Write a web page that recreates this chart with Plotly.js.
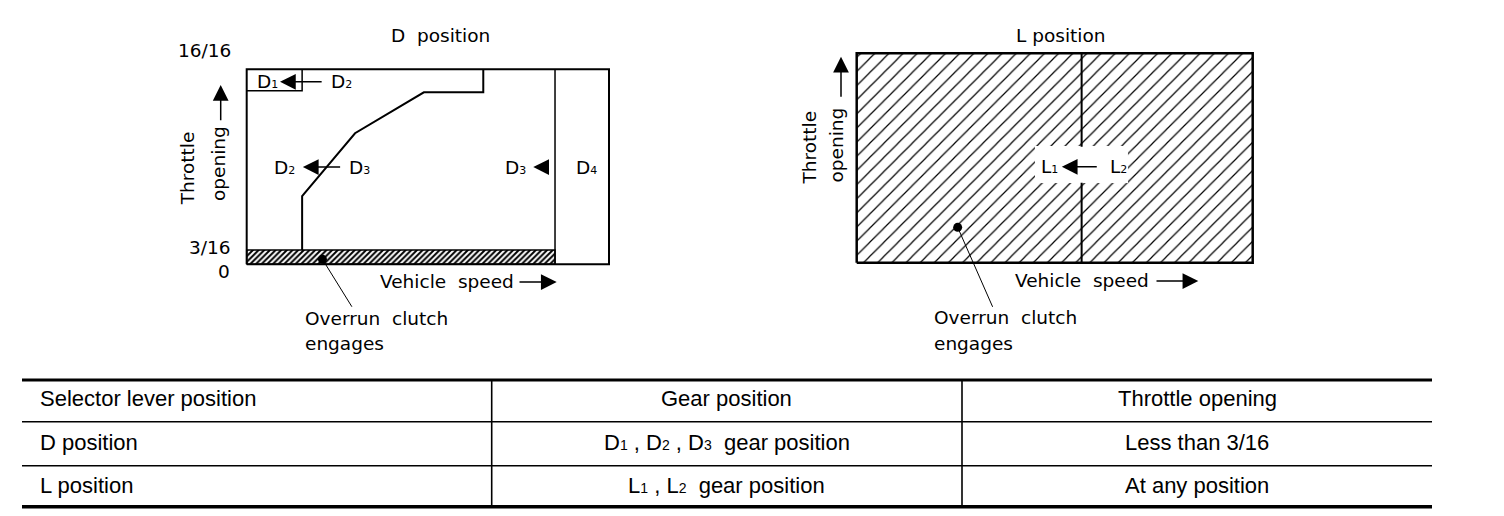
<!DOCTYPE html>
<html><head><meta charset="utf-8">
<script src="https://cdn.plot.ly/plotly-3.0.1.min.js"></script>
<style>html,body{margin:0;padding:0;background:#fff}#chart{width:1504px;height:516px}</style>
</head><body><div id="chart"></div>
<script>
// ---------------- DATA (schematic units: vehicle speed 0-100, throttle 0-100 of diagram) ----------------
const dTitle = 'D\u00a0 position';
const lTitle = 'L position';
const throttleWords = ['Throttle', 'opening'];
const speedLabel = 'Vehicle\u00a0 speed';
const overrunLines = ['Overrun\u00a0 clutch', 'engages'];
const dTickLabels = ['16/16', '3/16', '0'];

const dBoxX = [0, 100, 100, 0, 0];
const dBoxY = [0, 0, 100, 100, 0];
const dBandX = [0, 85.1, 85.1, 0, 0];          // overrun clutch band (throttle < 3/16)
const dBandY = [0, 0, 7.3, 7.3, 0];
const dD34X = [85.1, 85.1];                    // D3 <- D4 boundary
const dD34Y = [0, 100];
const dD12X = [0, 15.3, 15.3];                 // D1 <- D2 region
const dD12Y = [89, 89, 100];
const dShiftX = [15.3, 15.3, 29.9, 48.9, 65.3, 65.3];   // D2 <- D3 shift line
const dShiftY = [7.3, 35, 67.2, 88.2, 88.2, 100];
const dDotX = [20.9], dDotY = [2.6];

const lBoxX = [0, 100, 100, 0, 0];
const lBoxY = [0, 0, 100, 100, 0];
const lShiftX = [56.8, 56.8, null, 56.8, 56.8]; // L1 <- L2 line
const lShiftY = [0, 38.2, null, 55.4, 100];
const lClearX = [45, 68.5, 68.5, 45, 45];
const lClearY = [38, 38, 55.7, 55.7, 38];
const lDotX = [25.5], lDotY = [16.9];

// shift labels: [fromGear, toGear] with subscript digits
const dShiftLabels = [['D', '2', 'D', '1'], ['D', '3', 'D', '2'], ['D', '4', 'D', '3']];
const lShiftLabels = [['L', '2', 'L', '1']];

// table
const tableHeader = ['Selector lever position', 'Gear position', 'Throttle opening'];
const colSelector = ['D position', 'L position'];
const colGear = [[['D','1'],['D','2'],['D','3']], [['L','1'],['L','2']]];
const colThrottle = ['Less than 3/16', 'At any position'];

// ---------------- LAYOUT HELPERS ----------------
const W = 1504, H = 516, PAD = 4;
function xDom(p0, p1) { const s = (p1 - p0) / 100; return [(p0 - PAD * s) / W, (p1 + PAD * s) / W]; }
function yDom(pb, pt) { const s = (pb - pt) / 100; return [1 - (pb + PAD * s) / H, 1 - (pt - PAD * s) / H]; }
const px = x => x / W, py = y => 1 - y / H;
const FONT = {family: 'DejaVu Sans, Arial, sans-serif', size: 18.5, color: '#000'};
const TFONT = {family: 'Liberation Sans, Arial, sans-serif', size: 22, color: '#000'};
const sub = (t, d, fs) => t + '<span style="font-size:' + (fs || 11) + 'px">' + d + '</span>';
const AS = 2.1;

const ann = [];
function txt(text, x, y, o) {
  ann.push(Object.assign({text, x: px(x), y: py(y), xref: 'paper', yref: 'paper', showarrow: false,
    xanchor: 'center', yanchor: 'middle', font: FONT}, o || {}));
}
function parrow(tip, tail, o) {
  ann.push(Object.assign({text: '', x: px(tip[0]), y: py(tip[1]), xref: 'paper', yref: 'paper',
    axref: 'pixel', ayref: 'pixel', ax: tail[0] - tip[0], ay: tail[1] - tip[1], showarrow: true,
    arrowhead: 2, arrowsize: AS, arrowwidth: 1.5, arrowcolor: '#000', standoff: 0}, o || {}));
}
function darrow(xa, ya, tip, tail) {
  ann.push({text: '', xref: xa, yref: ya, axref: xa, ayref: ya, x: tip[0], y: tip[1], ax: tail[0], ay: tail[1],
    showarrow: true, arrowhead: 2, arrowsize: AS, arrowwidth: 1.5, arrowcolor: '#000', standoff: 0});
}
function dtxt(xa, ya, text, x, y) {
  ann.push({text, xref: xa, yref: ya, x, y, showarrow: false, xanchor: 'center', yanchor: 'middle', font: FONT});
}

// ---------------- TRACES ----------------
const blk = {color: '#000', width: 2};
const traces = [
  {x: dBandX, y: dBandY, xaxis: 'x', yaxis: 'y', mode: 'lines', fill: 'toself', fillcolor: '#fff',
   fillpattern: {shape: '/', size: 4, solidity: 0.5, fgcolor: '#000', bgcolor: '#fff'}, line: {color: '#000', width: 1.5}},
  {x: dBoxX, y: dBoxY, xaxis: 'x', yaxis: 'y', mode: 'lines', line: blk},
  {x: dD34X, y: dD34Y, xaxis: 'x', yaxis: 'y', mode: 'lines', line: {color: '#000', width: 1.5}},
  {x: dD12X, y: dD12Y, xaxis: 'x', yaxis: 'y', mode: 'lines', line: {color: '#000', width: 1.5}},
  {x: dShiftX, y: dShiftY, xaxis: 'x', yaxis: 'y', mode: 'lines', line: blk},
  {x: dDotX, y: dDotY, xaxis: 'x', yaxis: 'y', mode: 'markers', marker: {color: '#000', size: 9}, cliponaxis: false},

  {x: lBoxX, y: lBoxY, xaxis: 'x2', yaxis: 'y2', mode: 'lines', fill: 'toself', fillcolor: '#fff',
   fillpattern: {shape: '/', size: 10, solidity: 0.12, fgcolor: '#000', bgcolor: '#fff'}, line: {color: '#000', width: 2.5}},
  {x: lClearX, y: lClearY, xaxis: 'x2', yaxis: 'y2', mode: 'none', fill: 'toself', fillcolor: '#fff'},
  {x: lShiftX, y: lShiftY, xaxis: 'x2', yaxis: 'y2', mode: 'lines', line: blk},
  {x: lDotX, y: lDotY, xaxis: 'x2', yaxis: 'y2', mode: 'markers', marker: {color: '#000', size: 9}, cliponaxis: false}
];
traces.forEach(t => { t.showlegend = false; t.hoverinfo = 'skip'; });

// ---------------- ANNOTATIONS ----------------
// D chart
txt(dTitle, 440.7, 35);
txt(dTickLabels[0], 233, 50.5, {xanchor: 'right'});
txt(dTickLabels[1], 233, 248, {xanchor: 'right'});
txt(dTickLabels[2], 232, 271, {xanchor: 'right'});
txt(throttleWords[0], 187.5, 168.8, {textangle: -90});
txt(throttleWords[1], 218, 164, {textangle: -90});
parrow([220.7, 85], [220.7, 121.7]);
txt(speedLabel, 378, 281.7, {xanchor: 'left'});
parrow([556.7, 282], [518, 282]);
txt(overrunLines[0], 303, 318.3, {xanchor: 'left'});
txt(overrunLines[1], 303, 343, {xanchor: 'left'});
ann.push({text: '', xref: 'x', yref: 'y', x: dDotX[0], y: dDotY[0], axref: 'pixel', ayref: 'pixel', ax: 30.4, ay: 49,
  showarrow: true, arrowhead: 0, arrowwidth: 1, arrowcolor: '#000', standoff: 0});
// shift labels D
const dLabPos = [[26.3, 5.74, 93.6, 9.2, 21.1], [31.0, 10.4, 49.9, 15.5, 26.2], [93.9, 74.3, 49.9, 79.1, 83.6]];
dShiftLabels.forEach((s, i) => {
  const p = dLabPos[i];
  dtxt('x', 'y', sub(s[0], s[1]), p[0], p[2]);
  dtxt('x', 'y', sub(s[2], s[3]), p[1], p[2]);
  darrow('x', 'y', [p[3], p[2]], [p[4], p[2]]);
});

// L chart
txt(lTitle, 1060, 35);
txt(throttleWords[0], 809, 147.5, {textangle: -90});
txt(throttleWords[1], 836, 145.5, {textangle: -90});
parrow([841, 56.7], [841, 98.3]);
txt(speedLabel, 1013, 280.7, {xanchor: 'left'});
parrow([1198.3, 281], [1155, 281]);
txt(overrunLines[0], 931.7, 317.7, {xanchor: 'left'});
txt(overrunLines[1], 931.7, 343, {xanchor: 'left'});
ann.push({text: '', xref: 'x2', yref: 'y2', x: lDotX[0], y: lDotY[0], axref: 'pixel', ayref: 'pixel', ax: 35.6, ay: 81,
  showarrow: true, arrowhead: 0, arrowwidth: 1, arrowcolor: '#000', standoff: 0});
const lLabPos = [[66.1, 48.8, 45.8, 51.8, 61.0]];
lShiftLabels.forEach((s, i) => {
  const p = lLabPos[i];
  dtxt('x2', 'y2', sub(s[0], s[1]), p[0], p[2]);
  dtxt('x2', 'y2', sub(s[2], s[3]), p[1], p[2]);
  darrow('x2', 'y2', [p[3], p[2]], [p[4], p[2]]);
});

// ---------------- TABLE ----------------
const tL = 22, tR = 1432, c1 = 491.7, c2 = 962;
const rowLines = [380, 421.7, 465.7, 506.7];
const rowW = [3, 1.5, 1.5, 3.5];
const shapes = [];
rowLines.forEach((y, i) => shapes.push({type: 'line', xref: 'paper', yref: 'paper', x0: px(tL), x1: px(tR), y0: py(y), y1: py(y),
  line: {color: '#000', width: rowW[i]}}));
[c1, c2].forEach(x => shapes.push({type: 'line', xref: 'paper', yref: 'paper', x0: px(x), x1: px(x), y0: py(rowLines[0]), y1: py(rowLines[3]),
  line: {color: '#000', width: 1.6}}));
const rowMid = [398.5, 442.5, 485.5];
const tt = (t, x, y, a) => txt(t, x, y, {xanchor: a, font: TFONT});
tt(tableHeader[0], 38, rowMid[0], 'left');
tt(tableHeader[1], (c1 + c2) / 2, rowMid[0], 'center');
tt(tableHeader[2], (c2 + tR) / 2, rowMid[0], 'center');
colSelector.forEach((t, i) => tt(t, 38, rowMid[i + 1], 'left'));
colGear.forEach((g, i) => tt(g.map(p => sub(p[0], p[1], 14)).join(' , ') + '\u00a0 gear position', (c1 + c2) / 2, rowMid[i + 1], 'center'));
colThrottle.forEach((t, i) => tt(t, (c2 + tR) / 2, rowMid[i + 1], 'center'));

// ---------------- LAYOUT ----------------
const ax = d => ({domain: d, range: [-PAD, 100 + PAD], visible: false, showgrid: false, zeroline: false, fixedrange: true});
const layout = {
  width: W, height: H, margin: {l: 0, r: 0, t: 0, b: 0}, paper_bgcolor: '#fff', plot_bgcolor: 'rgba(0,0,0,0)',
  showlegend: false,
  xaxis: ax(xDom(246.7, 609)), yaxis: ax(yDom(264.3, 69.3)),
  xaxis2: Object.assign(ax(xDom(856.7, 1252.7)), {anchor: 'y2'}),
  yaxis2: Object.assign(ax(yDom(262.7, 53.3)), {anchor: 'x2'}),
  annotations: ann, shapes: shapes
};
layout.xaxis.anchor = 'y'; layout.yaxis.anchor = 'x';
Plotly.newPlot('chart', traces, layout, {displayModeBar: false, staticPlot: true});
</script></body></html>
